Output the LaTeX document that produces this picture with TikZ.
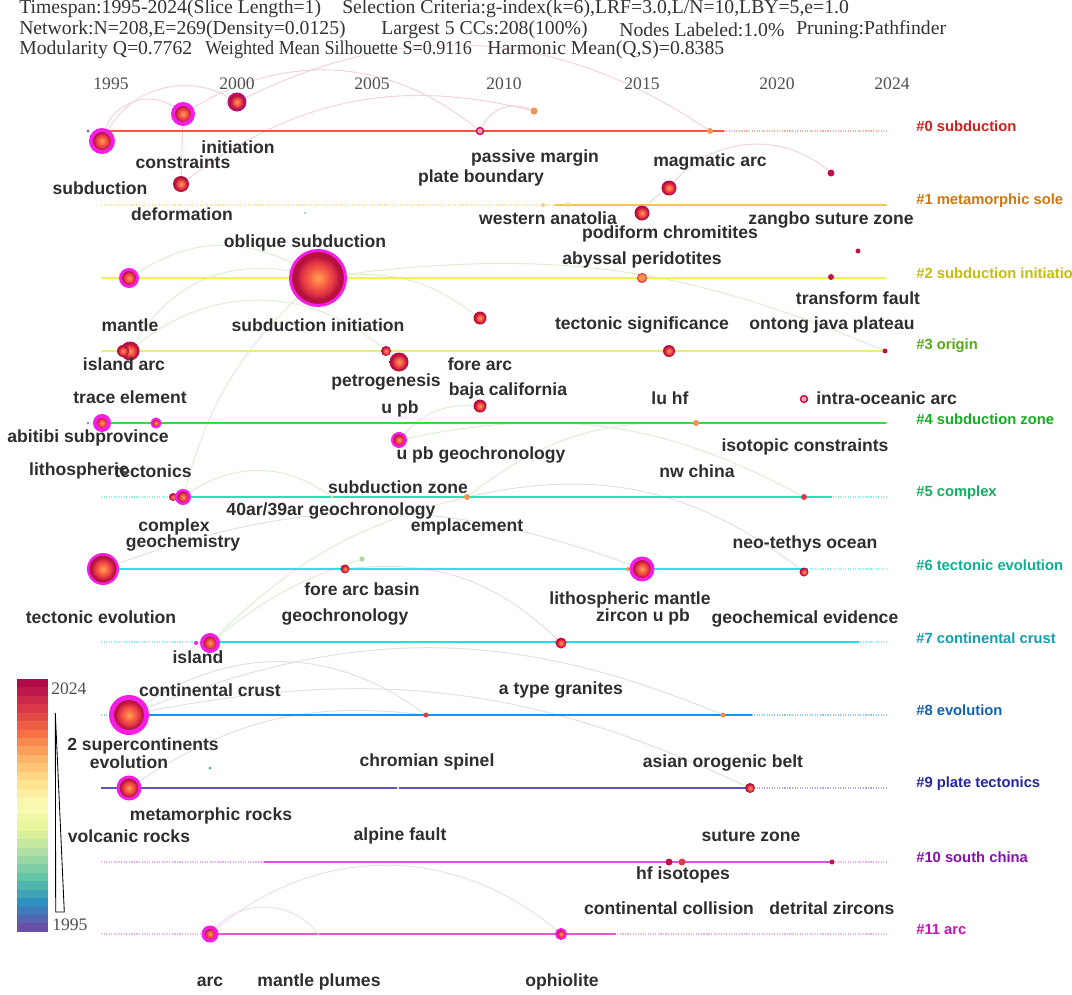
\documentclass[tikz,border=0pt]{standalone}
\usepackage{fontspec}
\setmainfont{Liberation Serif}
\setsansfont{Liberation Sans}
\usepackage{xcolor}
\definecolor{hdrgray}{HTML}{333333}
\definecolor{yeargray}{HTML}{505050}
\definecolor{kwtext}{HTML}{2E2E2E}
\definecolor{ballcore}{HTML}{FFA257}
\definecolor{ballwarm}{HTML}{F96A45}
\definecolor{ballmid}{HTML}{E53845}
\definecolor{ballrim}{HTML}{B5103E}
\definecolor{hubpink}{HTML}{F41EE4}
\definecolor{hubdark}{HTML}{B4126C}
\definecolor{crimson}{HTML}{C4104A}
\definecolor{dotred}{HTML}{E43A48}
\definecolor{dotorange}{HTML}{F8904E}
\definecolor{paleorange}{HTML}{F9C98A}
\definecolor{ringfill}{HTML}{F9A0B0}
\definecolor{tinyblue}{HTML}{6A6AB0}
\definecolor{tinygreen}{HTML}{8CCFA8}
\definecolor{tinyyellow}{HTML}{E4E49A}
\definecolor{tinyteal}{HTML}{3AA8B0}
\definecolor{tinygray}{HTML}{B8C0B0}
\definecolor{palegreen}{HTML}{A6DA92}
\definecolor{linkpink}{HTML}{F3D4DA}
\definecolor{linkgreen}{HTML}{DCEED4}
\definecolor{linkgray}{HTML}{DDE2EA}
\definecolor{linkpurple}{HTML}{EFDDF0}
% timeline colours
\definecolor{ln0}{HTML}{F05A40}
\definecolor{ln1}{HTML}{F8C64A}
\definecolor{ln2}{HTML}{F4F052}
\definecolor{ln3}{HTML}{E6F070}
\definecolor{ln4}{HTML}{30E030}
\definecolor{ln5}{HTML}{1EE6B2}
\definecolor{ln6}{HTML}{22E6E6}
\definecolor{ln7}{HTML}{1EDFE8}
\definecolor{ln8}{HTML}{2290E0}
\definecolor{ln9}{HTML}{6250C8}
\definecolor{ln10}{HTML}{E24EE6}
\definecolor{ln11}{HTML}{E856D8}
% cluster label colours
\definecolor{cl0}{HTML}{D22020}
\definecolor{cl1}{HTML}{D4760E}
\definecolor{cl2}{HTML}{C6BE08}
\definecolor{cl3}{HTML}{5AAA12}
\definecolor{cl4}{HTML}{12B020}
\definecolor{cl5}{HTML}{10B062}
\definecolor{cl6}{HTML}{10B092}
\definecolor{cl7}{HTML}{10A0B2}
\definecolor{cl8}{HTML}{1262B6}
\definecolor{cl9}{HTML}{2626A0}
\definecolor{cl10}{HTML}{8A10AE}
\definecolor{cl11}{HTML}{C812B6}
% legend (spectral, 2024 at the top)
\definecolor{sp0}{HTML}{B00A4A}
\definecolor{sp1}{HTML}{D9364A}
\definecolor{sp2}{HTML}{F46D43}
\definecolor{sp3}{HTML}{FDAE61}
\definecolor{sp4}{HTML}{FEE08B}
\definecolor{sp5}{HTML}{FBFBB5}
\definecolor{sp6}{HTML}{E6F598}
\definecolor{sp7}{HTML}{ABDDA4}
\definecolor{sp8}{HTML}{5EC4A6}
\definecolor{sp9}{HTML}{2E8FC0}
\definecolor{sp10}{HTML}{6A4FA8}

\pgfdeclareradialshading{kwball}{\pgfpointorigin}{color(0bp)=(ballcore); color(7bp)=(ballwarm); color(14bp)=(ballmid); color(20bp)=(ballrim); color(50bp)=(ballrim)}
\pgfdeclarelayer{back}
\pgfsetlayers{back,main}

\newcommand{\hdrfont}{\fontsize{14}{16}\selectfont\rmfamily}
\newcommand{\yrfont}{\fontsize{12.5}{14}\selectfont\rmfamily}
\newcommand{\kwfont}{\fontsize{12.5}{14}\selectfont\sffamily\bfseries}
\newcommand{\clfont}{\fontsize{10.5}{12}\selectfont\sffamily\bfseries}

\tikzset{
  hdr/.style={font=\hdrfont, text=hdrgray, anchor=west, inner sep=0pt},
  yearlab/.style={font=\yrfont, text=yeargray, inner sep=0pt},
  kwlabel/.style={font=\kwfont, text=kwtext, inner sep=0pt},
  clabel/.style={font=\clfont, anchor=west, inner sep=0pt},
  kw/.style={circle, inner sep=0pt, minimum size=#1*0.05cm, shade, shading=kwball},
  hub/.style 2 args={circle, inner sep=0pt, minimum size={(#1+#2)*0.025cm},
    line width={(#2-#1)*0.025cm}, draw=hubpink, shade, shading=kwball},
  kwdot/.style 2 args={circle, inner sep=0pt, minimum size=#1*0.05cm, fill=#2},
  kwring/.style={circle, inner sep=0pt, minimum size=#1*0.05cm, draw=crimson, fill=ringfill, line width=1pt},
  kwlink/.style={draw=#1, line width=0.7pt},
}

\begin{document}
\begin{tikzpicture}[x=0.025cm, y=-0.025cm]
    % Canvas 1072 x 994 px
    \useasboundingbox (0,0) rectangle (1072,994);
    \begin{pgfonlayer}{back}
      \fill[white] (0,0) rectangle (1072,994);
    \end{pgfonlayer}

    % Header
    \node[hdr] (h1a) at (19,9) {Timespan:1995-2024(Slice Length=1)};
    \node[hdr] (h1b) at (342,9) {Selection Criteria:g-index(k=6),LRF=3.0,L/N=10,LBY=5,e=1.0};
    \node[hdr] (h2a) at (19,30) {Network:N=208,E=269(Density=0.0125)};
    \node[hdr] (h2b) at (381,30) {Largest 5 CCs:208(100\%)};
    \node[hdr] (h2c) at (619,30) {Nodes Labeled:1.0\%};
    \node[hdr] (h2d) at (796,30) {Pruning:Pathfinder};
    \node[hdr] (h3a) at (19,50) {Modularity Q=0.7762};
    \node[hdr] (h3b) at (205,50) {\scalebox{0.92}[1]{Weighted Mean Silhouette S=0.9116}};
    \node[hdr] (h3c) at (487,50) {Harmonic Mean(Q,S)=0.8385};

    % Year axis
    \foreach \yr/\x in {1995/111, 2000/237, 2005/372, 2010/504, 2015/642, 2020/777, 2024/892} {
      \node[yearlab] (yr\yr) at (\x,84) {\yr};
    }

    % Timelines: dotted span, then the active years
    \foreach \i/\y/\xa/\xb in {0/131/102/724, 1/205/555/886, 2/278/102/886, 3/351/102/886,
        4/423/102/886, 5/497/178/832, 6/569/103/808, 7/642/200/859,
        8/715/129/752, 9/788/101/750, 10/862/264/833, 11/934/210/616} {
      \draw[ln\i!50, densely dotted, line width=0.8pt] (101,\y) -- (886,\y);
      \draw[ln\i, line width=1.5pt] (\xa,\y) -- (\xb,\y);
    }

    % Cluster labels
    \foreach \i/\y/\txt in {0/126.5/subduction, 1/200.5/metamorphic sole, 2/273/subduction initiation,
        3/346/origin, 4/419/subduction zone, 5/492.5/complex, 6/565/tectonic evolution,
        7/638/continental crust, 8/710.5/evolution, 9/784/plate tectonics,
        10/857/south china, 11/929.5/arc} {
      \node[clabel, text=cl\i] (cl\i) at (916,\y) {\#\i\ \txt};
    }

    % Row 0
    \node[kwdot={1.5}{tinyblue}] (sub0) at (88,131) {};
    \node[hub={9}{13}] (subduction) at (102,141) {};
    \node[hub={8}{12}] (constraints) at (183,114) {};
    \node[hub={7}{9.5}, draw=hubdark] (initiation) at (237,102) {};
    \node[kw=8] (deformation) at (181,184) {};
    \node[kwring=3.5] (pmargin) at (480,131) {};
    \node[kwdot={3.5}{dotorange}] (pboundary) at (534,111) {};
    \node[kwdot={3}{dotorange}] (sub18) at (710,131) {};
    % Row 1
    \node[kwdot={2}{paleorange}] (wa1) at (543,205) {};
    \node[kwdot={2}{paleorange}] (wa2) at (568,205) {};
    \node[kw=7.5] (podiform) at (642,213) {};
    \node[kw=7.5] (magmatic) at (669,188) {};
    \node[kwdot={3.5}{crimson}] (zangbo) at (831,173) {};
    % Row 2
    \node[kwdot={1.2}{tinygreen}] (sub2g) at (305,213) {};
    \node[hub={7}{10}] (mantle) at (129,278) {};
    \node[hub={26}{29}] (oblique) at (318,278) {};
    \node[kwdot={4.5}{dotorange}, draw=dotred, line width=0.8pt] (abyssal) at (642,278) {};
    \node[kwdot={3}{crimson}] (transform) at (831,277) {};
    \node[kwdot={2.5}{crimson}] (sub22) at (858,251) {};
    % Row 3
    \node[kw=9.5] (islandarc) at (130,351) {};
    \node[kw=6] (islandarc2) at (123,351) {};
    \node[kw=5] (origin06) at (386,351) {};
    \node[kw=9.5] (petrogenesis) at (399,362) {};
    \node[kw=6.5] (forearc) at (480,318) {};
    \node[kw=6] (tsignif) at (669,351) {};
    \node[kwdot={2.5}{crimson}] (ontong) at (885,351) {};
    % Row 4
    \node[kwdot={1.2}{tinyblue}] (sub4t) at (88,423) {};
    \node[hub={5}{9}] (abitibi) at (102,423) {};
    \node[hub={3.5}{5.5}] (trace) at (156,423) {};
    \node[kw=6.5] (baja) at (480,406) {};
    \node[hub={5.5}{8}] (upbgeo) at (399,440) {};
    \node[kwdot={3}{dotorange}] (luhf) at (696,423) {};
    \node[kwring=3.5] (intra) at (804,399) {};
    % Row 5
    \node[kw=4] (lithos) at (173,497) {};
    \node[hub={5.5}{8}] (tectonics) at (183,497) {};
    \node[kwdot={1.5}{tinyyellow}] (c5a) at (332,497) {};
    \node[kwdot={3}{dotorange}] (szone) at (467,497) {};
    \node[kwdot={3}{dotred}] (nwchina) at (804,497) {};
    % Row 6
    \node[hub={13.5}{16}] (tevo) at (103,569) {};
    \node[kw=4.5] (fabasin) at (345,569) {};
    \node[kwdot={2.5}{palegreen}] (c6g) at (362,559) {};
    \node[kwdot={2}{dotorange}] (c6o) at (628,569) {};
    \node[hub={9}{12.5}] (lithmantle) at (642,569) {};
    \node[kw=4.5] (neotethys) at (804,572) {};
    % Row 7
    \node[kwdot={2}{hubpink}] (c7m) at (196,643) {};
    \node[hub={6.5}{10}] (island) at (210,643) {};
    \node[kw=5.5] (zirconupb) at (561,643) {};
    % Row 8
    \node[hub={15}{20}] (ccrust) at (129,715) {};
    \node[kwdot={2.5}{dotred}] (c8r) at (426,715) {};
    \node[kwdot={2.5}{dotorange}] (atype) at (723,715) {};
    % Row 9
    \node[hub={9.5}{12.5}] (evolution) at (129,788) {};
    \node[kwdot={1.5}{tinyteal}] (c9t) at (210,768) {};
    \node[kwdot={1.5}{tinyyellow}] (chromian) at (398,788) {};
    \node[kw=5] (asian) at (750,788) {};
    % Row 10
    \node[kwdot={3.5}{crimson}] (hf1) at (669,862) {};
    \node[kwdot={3.5}{dotred}] (hf2) at (682,862) {};
    \node[kwdot={2.5}{crimson}] (suture) at (832,862) {};
    % Row 11
    \node[hub={5}{8.5}] (arc) at (210,934) {};
    \node[kwdot={1.5}{tinygray}] (plumes) at (318,934) {};
    \node[hub={4}{6}] (ophiolite) at (561,934) {};

    % Faint co-occurrence arcs (behind everything)
    \begin{pgfonlayer}{back}
      \draw[kwlink=linkpink] (subduction) to[bend left=55] (constraints);
      \draw[kwlink=linkpink] (subduction) to[bend left=45] (initiation);
      \draw[kwlink=linkpink] (constraints) to[bend left=35] (pmargin);
      \draw[kwlink=linkpink] (deformation) to[bend left=25] (pboundary);
      \draw[kwlink=linkpink] (pmargin) to[bend left=45] (pboundary);
      \draw[kwlink=linkpink] (initiation) to[bend left=30] (sub18);
      \draw[kwlink=linkpink] (constraints) -- (deformation);
      \draw[kwlink=linkpink] (podiform) to[bend left=10] (magmatic);
      \draw[kwlink=linkpink] (magmatic) to[bend left=45] (zangbo);
      \draw[kwlink=linkgreen] (mantle) to[bend left=30] (oblique);
      \draw[kwlink=linkgreen] (islandarc) to[bend left=35] (oblique);
      \draw[kwlink=linkgreen] (islandarc) to[bend left=40] (origin06);
      \draw[kwlink=linkgreen] (oblique) to[bend left=20] (forearc);
      \draw[kwlink=linkgreen] (oblique) to[bend left=15] (ontong);
      \draw[kwlink=linkgreen] (tectonics) to[bend left=15] (oblique);
      \draw[kwlink=linkgreen] (tectonics) to[bend left=35] (c5a);
      \draw[kwlink=linkgreen] (upbgeo) to[bend left=25] (baja);
      \draw[kwlink=linkgreen] (szone) to[bend left=20] (luhf);
      \draw[kwlink=linkgreen] (upbgeo) to[bend left=20] (nwchina);
      \draw[kwlink=linkgray] (tevo) to[bend left=20] (lithmantle);
      \draw[kwlink=linkgreen] (island) to[bend left=15] (szone);
      \draw[kwlink=linkgreen] (island) to[bend left=10] (c6g);
      \draw[kwlink=linkgray] (szone) to[bend left=25] (neotethys);
      \draw[kwlink=linkgray] (fabasin) to[bend left=25] (zirconupb);
      \draw[kwlink=linkgray] (ccrust) to[bend left=35] (c8r);
      \draw[kwlink=linkgray] (ccrust) to[bend left=22] (atype);
      \draw[kwlink=linkgray] (evolution) to[bend left=20] (c8r);
      \draw[kwlink=linkgray] (ccrust) to[bend left=18] (asian);
      \draw[kwlink=linkpurple] (arc) to[bend left=40] (ophiolite);
      \draw[kwlink=linkpurple] (arc) to[bend left=50] (plumes);
    \end{pgfonlayer}

    % Keyword labels
    \node[kwlabel] (t-subduction) at (100,188) {subduction};
    \node[kwlabel] (t-constraints) at (183,162) {constraints};
    \node[kwlabel] (t-initiation) at (238,147.5) {initiation};
    \node[kwlabel] (t-deformation) at (182,214) {deformation};
    \node[kwlabel] (t-pmargin) at (535,158) {passive margin};
    \node[kwlabel] (t-pboundary) at (481,178) {plate boundary};
    \node[kwlabel] (t-magmatic) at (710,162) {magmatic arc};
    \node[kwlabel] (t-anatolia) at (548,218) {western anatolia};
    \node[kwlabel] (t-zangbo) at (831,220) {zangbo suture zone};
    \node[kwlabel] (t-podiform) at (670,234) {podiform chromitites};
    \node[kwlabel] (t-oblique) at (305,243) {oblique subduction};
    \node[kwlabel] (t-abyssal) at (642,260) {abyssal peridotites};
    \node[kwlabel] (t-transform) at (858,298) {transform fault};
    \node[kwlabel] (t-mantle) at (130,325) {mantle};
    \node[kwlabel] (t-subinit) at (318,325) {subduction initiation};
    \node[kwlabel] (t-tsignif) at (642,325) {tectonic significance};
    \node[kwlabel] (t-ontong) at (832,325) {ontong java plateau};
    \node[kwlabel] (t-islandarc) at (124,364) {island arc};
    \node[kwlabel] (t-forearc) at (480,364) {fore arc};
    \node[kwlabel] (t-petro) at (386,382) {petrogenesis};
    \node[kwlabel] (t-baja) at (508,391) {baja california};
    \node[kwlabel] (t-trace) at (130,397) {trace element};
    \node[kwlabel] (t-luhf) at (670,398) {lu hf};
    \node[kwlabel, anchor=west] (t-intra) at (816,398) {intra-oceanic arc};
    \node[kwlabel] (t-upb) at (400,409) {u pb};
    \node[kwlabel] (t-abitibi) at (88,438) {abitibi subprovince};
    \node[kwlabel] (t-isotopic) at (805,447) {isotopic constraints};
    \node[kwlabel] (t-upbgeo) at (481,455) {u pb geochronology};
    \node[kwlabel] (t-lithos) at (79,471) {lithospheric};
    \node[kwlabel] (t-tectonics) at (153,471) {tectonics};
    \node[kwlabel] (t-nwchina) at (697,471) {nw china};
    \node[kwlabel] (t-szone) at (398,487) {subduction zone};
    \node[kwlabel] (t-arar) at (331,511) {40ar/39ar geochronology};
    \node[kwlabel] (t-complex) at (174,527) {complex};
    \node[kwlabel] (t-emplace) at (467,527) {emplacement};
    \node[kwlabel] (t-geochem) at (183,543) {geochemistry};
    \node[kwlabel] (t-neotethys) at (805,544) {neo-tethys ocean};
    \node[kwlabel] (t-fabasin) at (362,589) {fore arc basin};
    \node[kwlabel] (t-lithmantle) at (630,600) {lithospheric mantle};
    \node[kwlabel] (t-tevo) at (101,617) {tectonic evolution};
    \node[kwlabel] (t-geochron) at (345,617) {geochronology};
    \node[kwlabel] (t-zircon) at (643,617) {zircon u pb};
    \node[kwlabel] (t-geoevid) at (805,619) {geochemical evidence};
    \node[kwlabel] (t-island) at (198,657) {island};
    \node[kwlabel] (t-ccrust) at (210,690) {continental crust};
    \node[kwlabel] (t-atype) at (561,690) {a type granites};
    \node[kwlabel] (t-supercont) at (143,746) {2 supercontinents};
    \node[kwlabel] (t-evolution) at (129,762) {evolution};
    \node[kwlabel] (t-chromian) at (427,762) {chromian spinel};
    \node[kwlabel] (t-asian) at (723,763) {asian orogenic belt};
    \node[kwlabel] (t-metarocks) at (211,816) {metamorphic rocks};
    \node[kwlabel] (t-volcanic) at (129,836) {volcanic rocks};
    \node[kwlabel] (t-alpine) at (400,836) {alpine fault};
    \node[kwlabel] (t-suture) at (751,836) {suture zone};
    \node[kwlabel] (t-hf) at (683,875) {hf isotopes};
    \node[kwlabel] (t-collision) at (669,908) {continental collision};
    \node[kwlabel] (t-detrital) at (832,908) {detrital zircons};
    \node[kwlabel] (t-arc) at (210,982) {arc};
    \node[kwlabel] (t-plumes) at (319,982) {mantle plumes};
    \node[kwlabel] (t-ophiolite) at (562,982) {ophiolite};

    % Colour legend, 1995 (bottom) to 2024 (top)
    \foreach \i in {0,...,29} {
      \pgfmathsetmacro\bandpos{\i/2.9}
      \pgfmathtruncatemacro\bandseg{min(\bandpos,9.999)}
      \pgfmathtruncatemacro\bandnext{\bandseg+1}
      \pgfmathtruncatemacro\bandpct{100*(1-(\bandpos-\bandseg))}
      \fill[sp\bandseg!\bandpct!sp\bandnext] (17,{679+\i*8.43}) rectangle (48,{679+(\i+1)*8.43});
    }
    \draw[black, line width=0.6pt] (55.3,713) -- (55.7,912) -- (64.3,912) -- cycle;
    \node[yearlab, anchor=west] (leg-top) at (51,689) {2024};
    \node[yearlab, anchor=west] (leg-bot) at (52,925) {1995};
\end{tikzpicture}
\end{document}
